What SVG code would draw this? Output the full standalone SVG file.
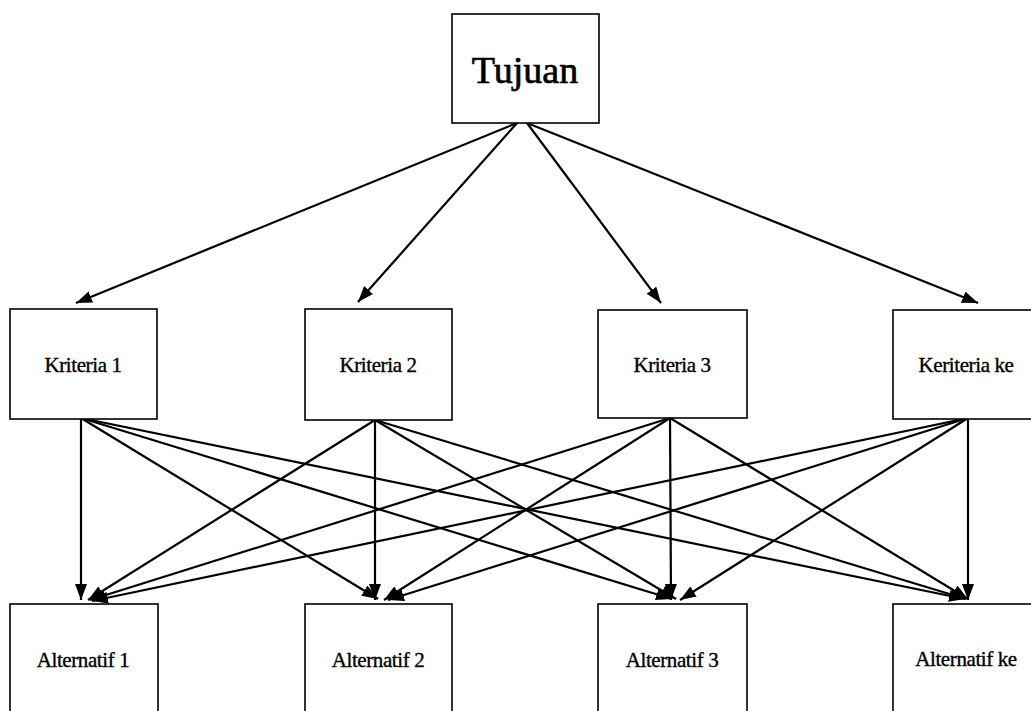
<svg xmlns="http://www.w3.org/2000/svg" width="1031" height="711" viewBox="0 0 1031 711">
<defs>
<marker id="ah" viewBox="0 0 16 12" refX="16" refY="6" markerWidth="16" markerHeight="12" markerUnits="userSpaceOnUse" orient="auto">
<path d="M0,0 L16,6 L0,12 z" fill="#000"/>
</marker>
<style>
.box{fill:#fff;stroke:#000;stroke-width:1.6}
.lbl{font-family:"Liberation Serif","Times New Roman",serif;font-size:21px;fill:#000;stroke:#000;stroke-width:0.35;text-anchor:middle;letter-spacing:-0.4px}
.big{font-family:"Liberation Serif","Times New Roman",serif;font-size:38px;fill:#000;stroke:#000;stroke-width:0.7;text-anchor:middle}
.c line{stroke:#000;stroke-width:2.2;marker-end:url(#ah)}
</style>
</defs>
<rect width="1031" height="711" fill="#fff"/>
<g id="connectors" class="c">
<line x1="517" y1="123" x2="76" y2="303"/>
<line x1="517" y1="123" x2="358" y2="302"/>
<line x1="527" y1="123" x2="661" y2="303"/>
<line x1="527" y1="123" x2="978" y2="303"/>
<line x1="81" y1="418" x2="81" y2="600"/>
<line x1="81" y1="418" x2="378" y2="599"/>
<line x1="81" y1="418" x2="672" y2="599"/>
<line x1="81" y1="418" x2="965" y2="599"/>
<line x1="375" y1="420" x2="88" y2="600"/>
<line x1="375" y1="420" x2="375" y2="600"/>
<line x1="375" y1="420" x2="676" y2="599"/>
<line x1="375" y1="420" x2="966" y2="599"/>
<line x1="670" y1="418" x2="90" y2="600"/>
<line x1="670" y1="418" x2="384" y2="600"/>
<line x1="670" y1="418" x2="671" y2="600"/>
<line x1="670" y1="418" x2="968" y2="599"/>
<line x1="968" y1="418" x2="92" y2="601"/>
<line x1="968" y1="418" x2="388" y2="600"/>
<line x1="968" y1="418" x2="680" y2="600"/>
<line x1="968" y1="418" x2="968" y2="600"/>
</g>
<g id="tujuan"><rect class="box" x="452" y="14" width="147" height="109"/><text class="big" x="525" y="83">Tujuan</text></g>
<g id="kriteria1"><rect class="box" x="10" y="309" width="147" height="110"/><text class="lbl" x="83" y="372">Kriteria 1</text></g>
<g id="kriteria2"><rect class="box" x="305" y="309" width="147" height="111"/><text class="lbl" x="378" y="372">Kriteria 2</text></g>
<g id="kriteria3"><rect class="box" x="598" y="310" width="149" height="108"/><text class="lbl" x="672" y="372">Kriteria 3</text></g>
<g id="kriteriake"><rect class="box" x="893" y="310" width="148" height="109"/><text class="lbl" x="966" y="372">Keriteria ke</text></g>
<g id="alternatif1"><rect class="box" x="10" y="604" width="148" height="120"/><text class="lbl" x="83" y="667">Alternatif 1</text></g>
<g id="alternatif2"><rect class="box" x="305" y="604" width="147" height="120"/><text class="lbl" x="378" y="667">Alternatif 2</text></g>
<g id="alternatif3"><rect class="box" x="598" y="604" width="149" height="120"/><text class="lbl" x="672" y="667">Alternatif 3</text></g>
<g id="alternatifke"><rect class="box" x="893" y="604" width="148" height="120"/><text class="lbl" x="966" y="666">Alternatif ke</text></g>
</svg>
